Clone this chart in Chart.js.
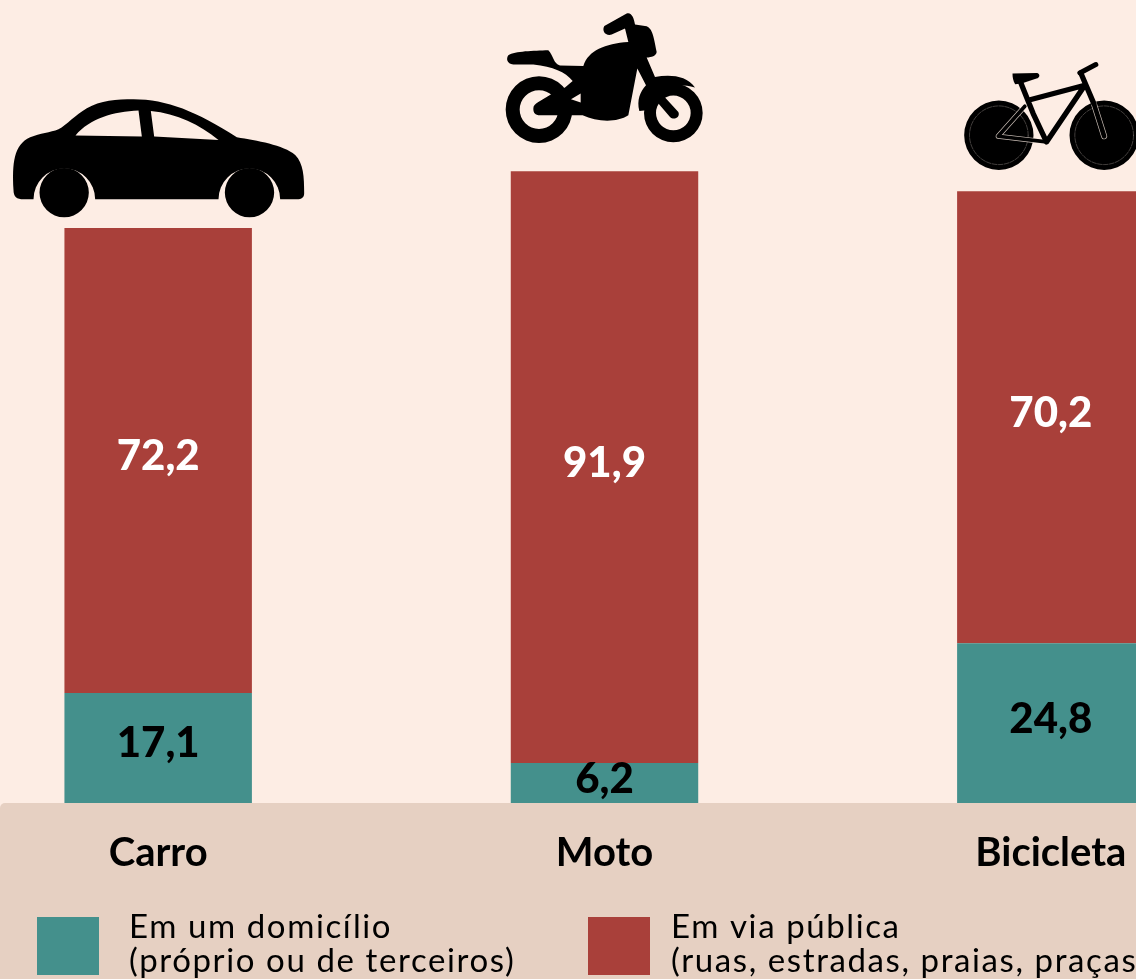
<!DOCTYPE html>
<html lang="pt-BR">
<head>
<meta charset="utf-8">
<title>Carro, moto, bicicleta</title>
<script src="https://cdn.jsdelivr.net/npm/chart.js@4"></script>
<style>
  html, body { margin: 0; height: 100%; overflow: hidden; background: #fdede4; }
  /* first category band starts left of the page, the picture is cropped there */
  #myChart { position: absolute; left: -65px; top: 0; }
</style>
</head>
<body>
<canvas id="myChart" width="1339" height="979"></canvas>
<script>
const categories = ['Carro', 'Moto', 'Bicicleta'];
const domicilio = [17.1, 6.2, 24.8];
const viaPublica = [72.2, 91.9, 70.2];
const seriesNames = ['Em um domicílio', 'Em via pública'];
const seriesNotes = ['(próprio ou de terceiros)', '(ruas, estradas, praias, praças'];

const TEAL = '#44908c';
const RED = '#a9403a';
const BACKGROUND = '#fdede4';
const BAND = '#e6d0c2';
const FONT = 'Lato, "Noto Sans", sans-serif';

// icons are traced at 3x, origin is relative to the top centre of the bar
const carIcon = {
  dx: -158, dy: -148,
  shapes: [
    { fill: 'M40 330 C36 250 40 195 90 172 C120 160 150 158 175 148 C200 135 225 105 260 85 C300 62 350 58 400 58 C500 58 590 95 710 172 C770 182 850 195 885 225 C910 250 912 290 912 340 C912 352 905 358 890 358 L840 358 A92 92 0 0 0 655 358 L285 358 A92 92 0 0 0 100 358 L70 358 C50 358 40 350 40 330 Z M226 167 C270 115 340 95 415 92 L425 170 Z M452 93 C530 100 600 135 655 180 L462 170 Z' },
    { fill: 'M266 338 A74 74 0 1 1 118 338 A74 74 0 1 1 266 338 Z M822 338 A74 74 0 1 1 674 338 A74 74 0 1 1 822 338 Z' }
  ]
};

const motoIcon = {
  dx: -114.5, dy: -171,
  shapes: [
    { fill: 'M247 328 A100 100 0 1 1 47 328 A100 100 0 1 1 247 328 Z M205 328 A58 58 0 1 0 89 328 A58 58 0 1 0 205 328 Z' },
    { fill: 'M638 338 A88 88 0 1 1 462 338 A88 88 0 1 1 638 338 Z M602 338 A52 52 0 1 0 498 338 A52 52 0 1 0 602 338 Z' },
    { fill: 'M130 325 C130 315 135 312 145 305 L190 278 L225 262 L248 242 C225 215 190 200 130 193 L70 193 C50 190 48 175 55 165 C75 152 130 152 175 150 C190 165 190 190 210 196 L280 197 C295 150 345 130 415 125 L405 85 L365 103 C345 108 335 90 343 77 L410 40 C425 35 432 55 435 73 L470 78 C485 85 490 100 500 155 C498 168 485 170 470 172 L495 230 C540 222 590 225 615 262 C570 248 525 255 510 275 L565 335 C572 350 552 362 540 350 L495 298 C480 300 475 315 470 330 L448 332 C440 300 450 275 468 255 L442 205 L415 345 C380 368 320 365 278 345 L210 345 L145 345 C132 342 130 335 130 325 Z M272 280 L243 297 L272 307 Z' }
  ]
};

const bikeIcon = {
  dx: -101, dy: -141,
  shapes: [
    { fill: 'M251 255 A104 104 0 1 1 43 255 A104 104 0 1 1 251 255 Z M567 255 A104 104 0 1 1 359 255 A104 104 0 1 1 567 255 Z' },
    { arc: [147, 255, 88], color: 'rgba(253,237,228,0.4)', width: 2, dash: [14, 4] },
    { arc: [463, 255, 88], color: 'rgba(253,237,228,0.4)', width: 2, dash: [14, 4] },
    { line: 'M290 275 L145 258 L225 168', color: 'rgba(253,237,228,0.8)', width: 15 },
    { line: 'M432 160 L463 258', color: 'rgba(253,237,228,0.8)', width: 18 },
    { line: 'M290 275 L145 258 L225 168', color: '#000', width: 11 },
    { line: 'M432 160 L463 258', color: '#000', width: 14 },
    { line: 'M212 95 L250 190 L290 275 L405 105 L235 150', color: '#000', width: 16 },
    { line: 'M393 68 L432 160', color: '#000', width: 16 },
    { line: 'M390 68 L438 43', color: '#000', width: 15 },
    { fill: 'M188 70 L262 68 C272 72 270 82 260 85 L215 100 L196 102 C190 92 188 82 188 70 Z' }
  ]
};

const icons = [carIcon, motoIcon, bikeIcon];

function drawShape(ctx, shape) {
  ctx.save();
  if (shape.fill) {
    ctx.fillStyle = '#000';
    ctx.fill(new Path2D(shape.fill), 'evenodd');
  } else {
    ctx.strokeStyle = shape.color;
    ctx.lineWidth = shape.width;
    ctx.lineCap = 'round';
    ctx.lineJoin = 'round';
    if (shape.dash) {
      ctx.setLineDash(shape.dash);
    }
    if (shape.arc) {
      ctx.beginPath();
      ctx.arc(shape.arc[0], shape.arc[1], shape.arc[2], 0, Math.PI * 2);
      ctx.stroke();
    } else {
      ctx.stroke(new Path2D(shape.line));
    }
  }
  ctx.restore();
}

const bandPlugin = {
  id: 'band',
  beforeDraw(chart) {
    const ctx = chart.ctx;
    ctx.save();
    ctx.fillStyle = BACKGROUND;
    ctx.fillRect(0, 0, chart.width, chart.height);
    ctx.fillStyle = BAND;
    ctx.beginPath();
    ctx.roundRect(65, chart.chartArea.bottom, chart.width, chart.height, [5, 0, 0, 0]);
    ctx.fill();
    ctx.restore();
  }
};

const valuePlugin = {
  id: 'values',
  afterDatasetsDraw(chart) {
    const ctx = chart.ctx;
    ctx.save();
    ctx.font = `900 42px ${FONT}`;
    ctx.textAlign = 'center';
    ctx.textBaseline = 'middle';
    chart.data.datasets.forEach((dataset, d) => {
      ctx.fillStyle = d === 0 ? '#000' : '#fff';
      chart.getDatasetMeta(d).data.forEach((bar, i) => {
        const text = dataset.data[i].toFixed(1).replace('.', ',');
        ctx.fillText(text, bar.x, (bar.y + bar.base) / 2 - 4);
      });
    });
    ctx.restore();
  }
};

const iconPlugin = {
  id: 'icons',
  afterDatasetsDraw(chart) {
    const ctx = chart.ctx;
    chart.getDatasetMeta(1).data.forEach((bar, i) => {
      ctx.save();
      ctx.translate(bar.x + icons[i].dx, bar.y + icons[i].dy);
      ctx.scale(1 / 3, 1 / 3);
      icons[i].shapes.forEach(shape => drawShape(ctx, shape));
      ctx.restore();
    });
  }
};

const legendPlugin = {
  id: 'keyBoxes',
  afterDraw(chart) {
    const ctx = chart.ctx;
    const swatchX = [102, 653];
    const textX = [194, 736];
    ctx.save();
    ctx.textAlign = 'left';
    ctx.textBaseline = 'alphabetic';
    ctx.font = `400 33px ${FONT}`;
    ctx.letterSpacing = '1.6px';
    chart.data.datasets.forEach((dataset, d) => {
      ctx.fillStyle = dataset.backgroundColor;
      ctx.fillRect(swatchX[d], 917, 62, 58);
      ctx.fillStyle = '#000';
      ctx.fillText(seriesNames[d], textX[d], 938);
      ctx.fillText(seriesNotes[d], textX[d], 972);
    });
    ctx.restore();
  }
};

const ctx = document.getElementById('myChart').getContext('2d');
const myChart = new Chart(ctx, {
  type: 'bar',
  data: {
    labels: categories,
    datasets: [
      { label: seriesNames[0], data: domicilio, backgroundColor: TEAL },
      { label: seriesNames[1], data: viaPublica, backgroundColor: RED }
    ]
  },
  options: {
    responsive: false,
    animation: false,
    layout: { padding: 0 },
    datasets: { bar: { barPercentage: 0.42, categoryPercentage: 1 } },
    plugins: { legend: { display: false }, tooltip: { enabled: false } },
    scales: {
      x: {
        stacked: true,
        grid: { display: false },
        border: { display: false },
        ticks: {
          color: '#000',
          padding: 18,
          maxRotation: 0,
          font: { family: FONT, size: 40, weight: '700' }
        },
        afterFit(scale) { scale.height = 176; }
      },
      y: {
        stacked: true,
        display: false,
        min: 0,
        max: 124.7
      }
    }
  },
  plugins: [bandPlugin, valuePlugin, iconPlugin, legendPlugin]
});
</script>
</body>
</html>
